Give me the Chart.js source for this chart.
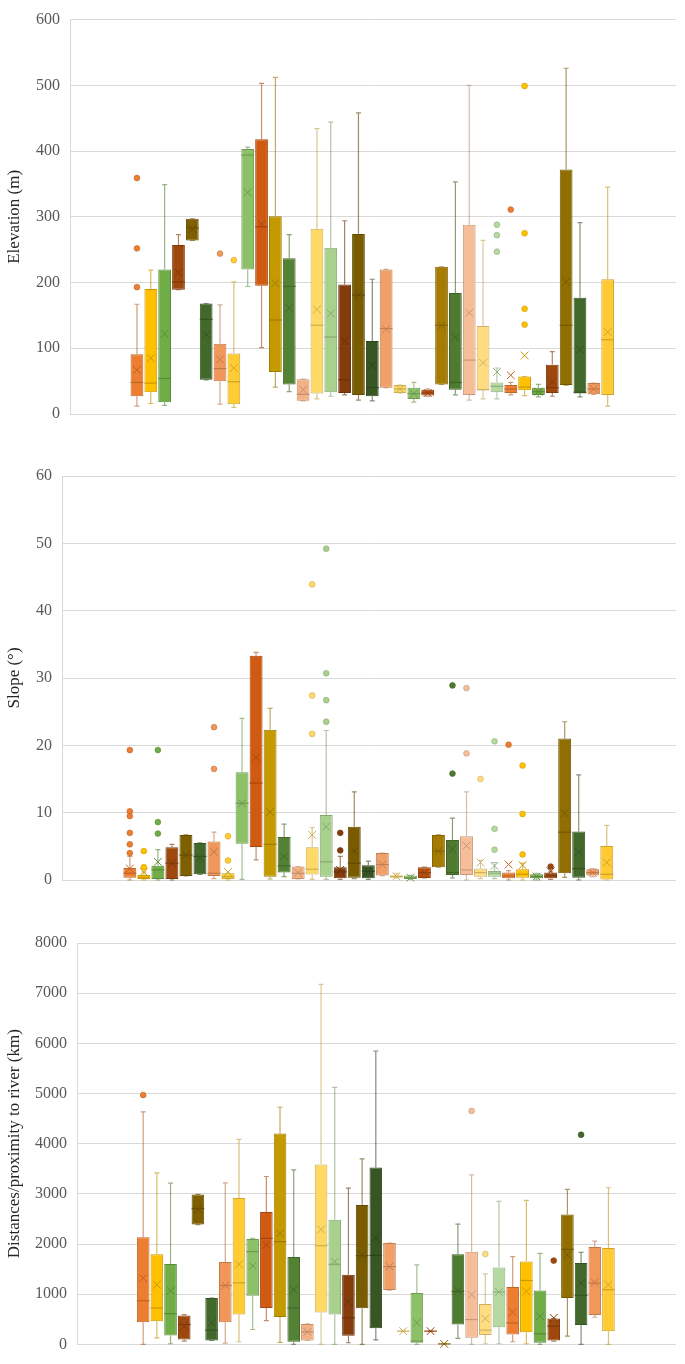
<!DOCTYPE html>
<html>
<head>
<meta charset="utf-8">
<script src="https://cdn.jsdelivr.net/npm/chart.js@4.4.1/dist/chart.umd.min.js"></script>
<style>
  html, body { margin: 0; padding: 0; background: #fff; }
  .panel { position: absolute; left: 0; width: 685px; }
</style>
</head>
<body>
<div class="panel" style="top:0;height:440px"><canvas id="elevChart"></canvas></div>
<div class="panel" style="top:440px;height:460px"><canvas id="slopeChart"></canvas></div>
<div class="panel" style="top:900px;height:464px"><canvas id="riverChart"></canvas></div>
<script>
// one colour per box, left to right (same order in the three panels)
const boxColors = [
  "#ED7D31", "#FFC000", "#70AD47", "#9E480E", "#7F6000", "#43682B",
  "#F1975A", "#FFCD33", "#8CC168", "#D05A12", "#C49A00", "#548235",
  "#F4B183", "#FFD966", "#A9D18E", "#843C0C", "#7A5C00", "#375623",
  "#F1A06A", "#FFD966", "#8CC168", "#B8500F", "#A67C00", "#4E7B30",
  "#F6BE98", "#FFDC80", "#B5D9A0", "#ED7D31", "#FFC000", "#70AD47",
  "#9E480E", "#906E00", "#43682B", "#F1975A", "#FFCA33"
];

// Elevation (m)
const elevQ1 = [27, 33, 18, 189, 264, 52, 50, 15, 220, 195, 64, 45, 20, 31, 33, 32, 29, 27, 40, 32, 23, 28, 45, 37, 29, 36, 33, 32, 36, 29, 32, 44, 31, 30, 29];
const elevQ3 = [91, 190, 220, 257, 297, 168, 107, 92, 403, 418, 301, 237, 53, 282, 253, 197, 274, 111, 220, 44, 40, 37, 224, 184, 288, 134, 48, 44, 57, 40, 75, 372, 177, 47, 205];
const elevMedian = [48, 47, 54, 201, 283, 144, 69, 49, 394, 285, 143, 194, 30, 135, 117, 52, 181, 40, 130, 38, 31, 32, 135, 48, 82, 37, 42, 38, 41, 34, 40, 135, 33, 38, 113];
const elevMean = [67, 85, 122, 215, 281, 121, 83, 70, 337, 289, 199, 161, 37, 159, 153, 111, 181, 74, 129, 38, 31, 32, 135, 117, 154, 78, 64, 59, 89, 34, 49, 201, 98, 38, 125];
const elevMin = [12, 16, 13, 189, 264, 52, 15, 10, 194, 101, 41, 34, 20, 23, 27, 29, 21, 20, 40, 32, 18, 27, 45, 29, 21, 23, 23, 29, 28, 26, 27, 44, 26, 30, 12];
const elevMax = [167, 219, 349, 273, 297, 168, 166, 201, 406, 503, 512, 273, 53, 434, 444, 294, 458, 205, 220, 44, 48, 38, 224, 353, 500, 264, 70, 48, 57, 45, 95, 526, 291, 47, 345];
const elevOutliers = [[359, 252, 193], [], [], [], [], [], [244], [234], [], [], [], [], [], [], [], [], [], [], [], [], [], [], [], [], [], [], [288, 272, 247], [311], [499, 275, 160, 136], [], [], [], [], [], []];

// Slope (°)
const slopeQ1 = [0.35, 0.15, 0.15, 0.15, 0.6, 0.85, 0.6, 0.15, 5.4, 4.9, 0.5, 1.1, 0.15, 0.8, 0.5, 0.25, 0.35, 0.25, 0.65, 0.35, 0.15, 0.3, 1.9, 0.75, 0.75, 0.5, 0.5, 0.25, 0.35, 0.25, 0.25, 1.0, 0.35, 0.65, 0];
const slopeQ3 = [1.8, 0.75, 2.1, 4.85, 6.7, 5.5, 5.7, 1.0, 16.0, 33.3, 22.3, 6.4, 2.0, 4.85, 9.65, 1.9, 7.9, 2.2, 4.0, 0.65, 0.65, 1.9, 6.7, 5.95, 6.5, 1.7, 1.35, 1.1, 1.6, 0.85, 1.1, 21.0, 7.2, 1.6, 5.05];
const slopeMedian = [1.0, 0.4, 1.5, 2.5, 3.7, 3.5, 1.0, 0.5, 11.4, 14.4, 5.3, 2.1, 1.0, 1.6, 2.7, 1.2, 2.5, 1.3, 2.3, 0.55, 0.35, 1.1, 4.3, 1.1, 1.5, 1.1, 1.0, 0.6, 0.85, 0.5, 0.6, 7.1, 1.7, 1.1, 0.85];
const slopeMean = [1.7, 1.2, 2.7, 2.5, 3.7, 3.3, 4.2, 1.2, 11.4, 18.2, 10.1, 3.5, 1.1, 6.7, 7.9, 1.5, 4.3, 1.3, 2.3, 0.55, 0.35, 1.1, 4.3, 4.6, 5.1, 2.6, 2.1, 2.3, 2.2, 0.5, 1.3, 9.9, 4.2, 1.1, 2.6];
const slopeMin = [0, 0, 0, 0, 0.6, 0.85, 0.2, 0, 0.1, 3.0, 0.15, 0.5, 0.15, 0.1, 0.1, 0.1, 0.2, 0.1, 0.65, 0.3, 0.1, 0.3, 1.9, 0.3, 0, 0.2, 0.2, 0, 0, 0, 0.1, 0.4, 0, 0.5, 0];
const slopeMax = [3.5, 1.2, 4.5, 5.3, 6.7, 5.5, 7.1, 1.0, 24.0, 33.8, 25.5, 8.3, 2.0, 7.8, 22.2, 3.5, 13.1, 2.8, 4.0, 1.0, 0.7, 1.9, 6.7, 9.2, 13.1, 2.9, 2.6, 1.4, 2.5, 1.0, 1.3, 23.5, 15.6, 1.7, 8.1];
const slopeOutliers = [[19.3, 10.2, 9.5, 7.0, 5.3, 4.0], [4.3, 1.9], [19.3, 8.6, 6.9], [], [], [], [22.7, 16.5], [6.5, 2.9], [], [], [], [], [], [43.9, 27.4, 21.7], [49.2, 30.7, 26.7, 23.5], [7.0, 4.4], [], [], [], [], [], [], [], [28.9, 15.8], [28.5, 18.8], [15.0], [20.6, 7.6, 4.5], [20.1], [17.0, 9.8, 3.8], [], [2.0], [], [], [], []];

// Distances/proximity to river (km)
const riverQ1 = [442, 462, 178, 99, 2389, 79, 442, 594, 970, 726, 548, 53, 79, 634, 594, 172, 719, 323, 1082, 264, 33, 264, 10, 396, 132, 185, 343, 198, 244, 33, 79, 924, 389, 587, 264];
const riverQ3 = [2138, 1795, 1604, 574, 2990, 924, 1643, 2917, 2099, 2640, 4204, 1742, 409, 3584, 2482, 1386, 2779, 3524, 2020, 264, 1023, 264, 10, 1795, 1848, 805, 1531, 1142, 1650, 1076, 515, 2587, 1624, 1940, 1921];
const riverMedian = [871, 726, 614, 396, 2706, 284, 1175, 1228, 1848, 2112, 2046, 726, 251, 1967, 1597, 528, 1769, 1775, 1551, 264, 66, 264, 10, 1056, 495, 284, 1043, 429, 1274, 211, 363, 1894, 977, 1221, 1089];
const riverMean = [1320, 1188, 1069, 363, 2693, 429, 1175, 1597, 1564, 1980, 2211, 1089, 251, 2290, 1650, 845, 1782, 2125, 1551, 264, 429, 264, 10, 1069, 990, 515, 1043, 640, 1056, 561, 528, 1782, 1221, 1234, 1188];
const riverMin = [0, 132, 13, 66, 2389, 79, 26, 53, 297, 475, 40, 0, 79, 0, 0, 33, 0, 92, 1082, 264, 0, 264, 10, 119, 0, 13, 13, 53, 13, 0, 66, 165, 0, 541, 0];
const riverMax = [4633, 3419, 3214, 594, 2990, 924, 3221, 4085, 2112, 3346, 4726, 3478, 409, 7174, 5122, 3115, 3696, 5848, 2020, 264, 1584, 264, 10, 2396, 3379, 1406, 2851, 1749, 2871, 1815, 515, 3089, 1835, 2059, 3122];
const riverOutliers = [[4970], [], [], [], [], [], [], [], [], [], [], [], [], [], [], [], [], [], [], [], [], [], [], [], [4653], [1802], [], [], [], [], [1670], [], [4178], [], []];

// darker shade of a hex colour
function shade(hex, f, alpha) {
  const n = parseInt(hex.slice(1), 16);
  const r = Math.round(((n >> 16) & 255) * f);
  const g = Math.round(((n >> 8) & 255) * f);
  const b = Math.round((n & 255) * f);
  return alpha === undefined ? `rgb(${r},${g},${b})` : `rgba(${r},${g},${b},${alpha})`;
}

const edgeColors = boxColors.map(c => shade(c, 0.8));
const whiskerColors = boxColors.map(c => shade(c, 0.75, 0.6));

// whiskers behind the boxes, median lines on top of them
function boxExtras(lo, hi, q1, q3, med) {
  return {
    id: "boxExtras",
    beforeDatasetsDraw(chart) {
      const { ctx, scales: { x, y } } = chart;
      ctx.save();
      ctx.lineWidth = 1.2;
      lo.forEach((v, i) => {
        const px = x.getPixelForValue(i);
        ctx.strokeStyle = whiskerColors[i];
        ctx.beginPath();
        ctx.moveTo(px, y.getPixelForValue(q3[i]));
        ctx.lineTo(px, y.getPixelForValue(hi[i]));
        ctx.moveTo(px - 2.5, y.getPixelForValue(hi[i]));
        ctx.lineTo(px + 2.5, y.getPixelForValue(hi[i]));
        ctx.moveTo(px, y.getPixelForValue(q1[i]));
        ctx.lineTo(px, y.getPixelForValue(v));
        ctx.moveTo(px - 2.5, y.getPixelForValue(v));
        ctx.lineTo(px + 2.5, y.getPixelForValue(v));
        ctx.stroke();
      });
      ctx.restore();
    },
    afterDatasetDraw(chart, args) {
      if (args.index !== 0) return;
      const { ctx, scales: { y } } = chart;
      ctx.save();
      ctx.lineWidth = 1.2;
      args.meta.data.forEach((bar, i) => {
        const py = y.getPixelForValue(med[i]);
        ctx.strokeStyle = edgeColors[i];
        ctx.beginPath();
        ctx.moveTo(bar.x - bar.width / 2, py);
        ctx.lineTo(bar.x + bar.width / 2, py);
        ctx.stroke();
      });
      ctx.restore();
    }
  };
}

function boxChart(id, p) {
  const outPoints = [], outFill = [], outEdge = [];
  p.out.forEach((list, i) => list.forEach(v => {
    outPoints.push({ x: i, y: v });
    outFill.push(boxColors[i]);
    outEdge.push(edgeColors[i]);
  }));

  new Chart(document.getElementById(id), {
    type: "bar",
    data: {
      datasets: [
        {
          type: "bar",
          data: p.q1.map((v, i) => ({ x: i, y: [v, p.q3[i]] })),
          backgroundColor: boxColors,
          borderColor: edgeColors,
          borderWidth: 1,
          borderSkipped: false,
          categoryPercentage: 1,
          barPercentage: 0.92,
          order: 3
        },
        {
          type: "scatter",
          data: p.mean.map((v, i) => ({ x: i, y: v })),
          pointStyle: "crossRot",
          pointRadius: 5.5,
          pointBorderWidth: 1,
          pointBorderColor: edgeColors,
          pointBackgroundColor: "transparent",
          clip: false,
          order: 2
        },
        {
          type: "scatter",
          data: outPoints,
          pointStyle: "circle",
          pointRadius: 2.9,
          pointBorderWidth: 0.6,
          pointBackgroundColor: outFill,
          pointBorderColor: outEdge,
          clip: false,
          order: 1
        }
      ]
    },
    options: {
      responsive: true,
      maintainAspectRatio: false,
      animation: false,
      layout: { padding: { top: p.padTop, bottom: p.padBottom, right: 9, left: 0 } },
      plugins: { legend: { display: false }, tooltip: { enabled: false } },
      scales: {
        x: { type: "linear", min: -2.1, max: 36.2, display: false },
        y: {
          min: 0,
          max: p.max,
          afterFit(scale) { scale.width = p.axisWidth; },
          ticks: {
            stepSize: p.step,
            padding: 10,
            color: "#595959",
            font: { family: "Liberation Serif", size: 16 },
            callback: v => String(v)
          },
          grid: { color: "#d9d9d9", drawTicks: false },
          border: { display: true, color: "#d9d9d9" },
          title: {
            display: true,
            text: p.title,
            color: "#262626",
            font: { family: "Liberation Serif", size: 17 }
          }
        }
      }
    },
    plugins: [boxExtras(p.lo, p.hi, p.q1, p.q3, p.med)]
  });
}

boxChart("elevChart", {
  q1: elevQ1, q3: elevQ3, med: elevMedian, mean: elevMean, lo: elevMin, hi: elevMax, out: elevOutliers,
  max: 600, step: 100, title: "Elevation (m)", axisWidth: 70, padTop: 10, padBottom: 26
});
boxChart("slopeChart", {
  q1: slopeQ1, q3: slopeQ3, med: slopeMedian, mean: slopeMean, lo: slopeMin, hi: slopeMax, out: slopeOutliers,
  max: 60, step: 10, title: "Slope (°)", axisWidth: 62, padTop: 36, padBottom: 20
});
boxChart("riverChart", {
  q1: riverQ1, q3: riverQ3, med: riverMedian, mean: riverMean, lo: riverMin, hi: riverMax, out: riverOutliers,
  max: 8000, step: 1000, title: "Distances/proximity to river (km)", axisWidth: 77, padTop: 43, padBottom: 17
});
</script>
</body>
</html>
